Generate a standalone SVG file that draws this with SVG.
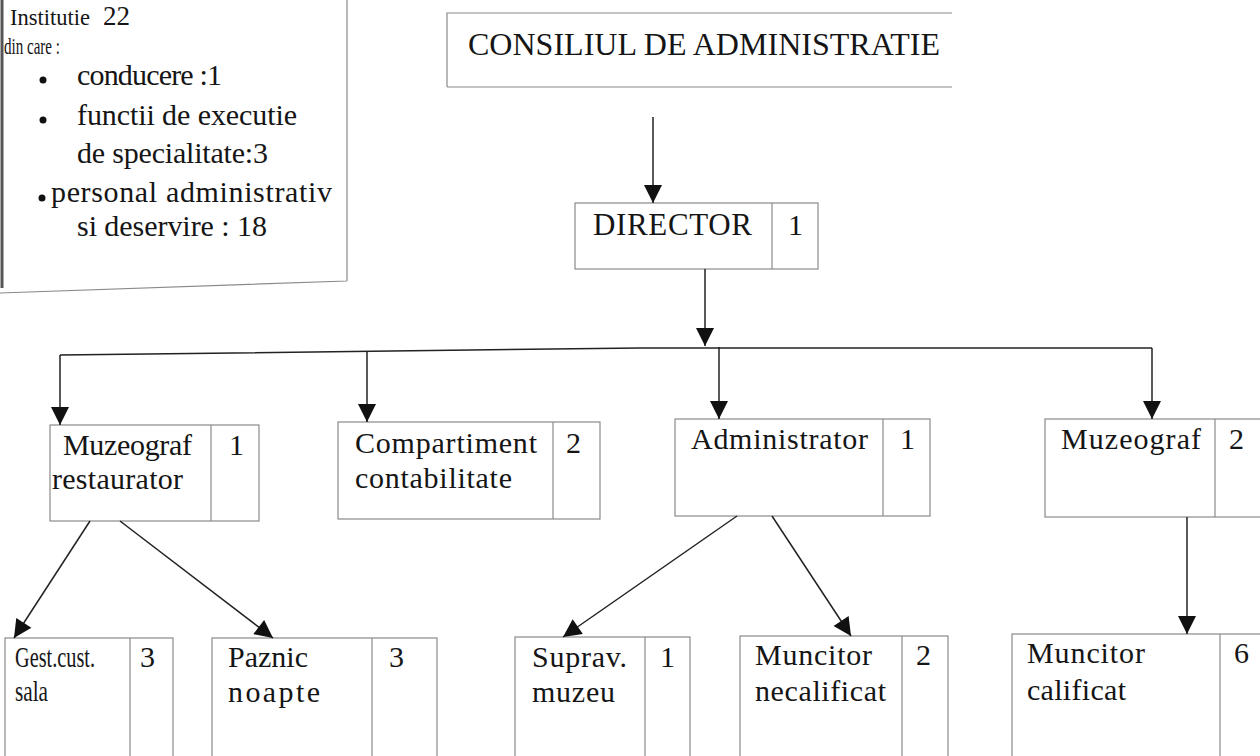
<svg xmlns="http://www.w3.org/2000/svg" width="1260" height="756" viewBox="0 0 1260 756">
<defs>
<marker id="ah" viewBox="0 0 10 10" refX="10" refY="5" markerWidth="22" markerHeight="18" markerUnits="userSpaceOnUse" orient="auto">
<path d="M0,0 L10,5 L0,10 Z" fill="#111"/>
</marker>
<style>
.box{fill:#fff;stroke:#8a8a8a;stroke-width:1.2}
.div{stroke:#8a8a8a;stroke-width:1.2}
.t{font-family:"Liberation Serif","Times New Roman",serif;font-size:30px;fill:#151515}
.c{stroke:#222;stroke-width:1.5;fill:none}
.ca{stroke:#222;stroke-width:1.5;fill:none;marker-end:url(#ah)}
</style>
</defs>
<rect width="1260" height="756" fill="#fff"/>
<g id="info">
<path d="M347,0 L347,281 M0,293 L347,281" stroke="#8a8a8a" stroke-width="1.2" fill="none"/>
<line x1="2" y1="0" x2="2" y2="288" stroke="#555" stroke-width="3"/>
<text x="10" y="25" class="t" style="font-size:23px" textLength="80" lengthAdjust="spacingAndGlyphs">Institutie</text>
<text x="103" y="25" class="t" style="font-size:27px">22</text>
<text x="4" y="54" class="t" style="font-size:24px" textLength="56" lengthAdjust="spacingAndGlyphs">din care :</text>
<circle cx="43" cy="80" r="3.5" fill="#111"/>
<text x="77" y="85" class="t" textLength="145" lengthAdjust="spacing">conducere :1</text>
<circle cx="43" cy="120" r="3.5" fill="#111"/>
<text x="77" y="125" class="t" textLength="220" lengthAdjust="spacing">functii de executie</text>
<text x="77" y="163" class="t" textLength="191" lengthAdjust="spacing">de specialitate:3</text>
<circle cx="42" cy="198" r="3.5" fill="#111"/>
<text x="51" y="202" class="t" textLength="281" lengthAdjust="spacing">personal administrativ</text>
<text x="77" y="236" class="t" textLength="190" lengthAdjust="spacing">si deservire : 18</text>
</g>
<g id="consiliu">
<path d="M447,87 L447,13 L952,13 M447,87 L952,87" stroke="#8a8a8a" stroke-width="1.2" fill="none"/>
<text x="468" y="55" class="t" style="font-size:32px" textLength="472" lengthAdjust="spacing">CONSILIUL DE ADMINISTRATIE</text>
</g>
<g id="director">
<rect x="575" y="203" width="243" height="66" class="box"/>
<line x1="772" y1="203" x2="772" y2="269" class="div"/>
<text x="593" y="235" class="t" style="font-size:31px" textLength="159" lengthAdjust="spacing">DIRECTOR</text>
<text x="788" y="235" class="t">1</text>
</g>
<g id="muzeograf-restaurator">
<rect x="50" y="425" width="209" height="96" class="box"/>
<line x1="211" y1="425" x2="211" y2="521" class="div"/>
<text x="63" y="455" class="t" textLength="129" lengthAdjust="spacing">Muzeograf</text>
<text x="52" y="489" class="t" textLength="131" lengthAdjust="spacing">restaurator</text>
<text x="229" y="455" class="t">1</text>
</g>
<g id="compartiment">
<rect x="338" y="422" width="262" height="97" class="box"/>
<line x1="553" y1="422" x2="553" y2="519" class="div"/>
<text x="355" y="453" class="t" textLength="182" lengthAdjust="spacing">Compartiment</text>
<text x="355" y="488" class="t" textLength="157" lengthAdjust="spacing">contabilitate</text>
<text x="566" y="453" class="t">2</text>
</g>
<g id="administrator">
<rect x="675" y="419" width="255" height="97" class="box"/>
<line x1="883" y1="419" x2="883" y2="516" class="div"/>
<text x="691" y="449" class="t" textLength="177" lengthAdjust="spacing">Administrator</text>
<text x="900" y="449" class="t">1</text>
</g>
<g id="muzeograf">
<rect x="1045" y="419" width="230" height="98" class="box"/>
<line x1="1215" y1="419" x2="1215" y2="517" class="div"/>
<text x="1061" y="449" class="t" textLength="140" lengthAdjust="spacing">Muzeograf</text>
<text x="1229" y="449" class="t">2</text>
</g>
<g id="gest">
<rect x="5" y="638" width="168" height="130" class="box"/>
<line x1="130" y1="638" x2="130" y2="756" class="div"/>
<text x="15" y="667" class="t" textLength="80" lengthAdjust="spacingAndGlyphs">Gest.cust.</text>
<text x="15" y="701" class="t" textLength="33" lengthAdjust="spacingAndGlyphs">sala</text>
<text x="140" y="667" class="t">3</text>
</g>
<g id="paznic">
<rect x="212" y="638" width="225" height="130" class="box"/>
<line x1="372" y1="638" x2="372" y2="756" class="div"/>
<text x="228" y="667" class="t" textLength="80" lengthAdjust="spacing">Paznic</text>
<text x="228" y="702" class="t" textLength="92" lengthAdjust="spacing">noapte</text>
<text x="389" y="667" class="t">3</text>
</g>
<g id="suprav">
<rect x="515" y="637" width="175" height="130" class="box"/>
<line x1="645" y1="637" x2="645" y2="756" class="div"/>
<text x="532" y="667" class="t" textLength="95" lengthAdjust="spacing">Suprav.</text>
<text x="532" y="702" class="t" textLength="83" lengthAdjust="spacing">muzeu</text>
<text x="660" y="667" class="t">1</text>
</g>
<g id="muncitor-necalificat">
<rect x="740" y="636" width="208" height="130" class="box"/>
<line x1="902" y1="636" x2="902" y2="756" class="div"/>
<text x="755" y="665" class="t" textLength="117" lengthAdjust="spacing">Muncitor</text>
<text x="755" y="701" class="t" textLength="131" lengthAdjust="spacing">necalificat</text>
<text x="916" y="665" class="t">2</text>
</g>
<g id="muncitor-calificat">
<rect x="1012" y="634" width="260" height="130" class="box"/>
<line x1="1220" y1="634" x2="1220" y2="756" class="div"/>
<text x="1027" y="663" class="t" textLength="118" lengthAdjust="spacing">Muncitor</text>
<text x="1027" y="700" class="t" textLength="99" lengthAdjust="spacing">calificat</text>
<text x="1234" y="663" class="t">6</text>
</g>
<g id="connectors">
<line x1="653" y1="117" x2="653" y2="203" class="ca"/>
<line x1="705" y1="269" x2="705" y2="346" class="ca"/>
<path d="M60,355 L640,348 L1152,348" class="c"/>
<line x1="60" y1="355" x2="60" y2="425" class="ca"/>
<line x1="367" y1="351" x2="367" y2="422" class="ca"/>
<line x1="719" y1="347" x2="719" y2="419" class="ca"/>
<line x1="1152" y1="348" x2="1152" y2="419" class="ca"/>
<line x1="90" y1="521" x2="14" y2="638" class="ca"/>
<line x1="120" y1="521" x2="273" y2="638" class="ca"/>
<line x1="737" y1="516" x2="563" y2="637" class="ca"/>
<line x1="772" y1="516" x2="851" y2="636" class="ca"/>
<line x1="1187" y1="517" x2="1187" y2="634" class="ca"/>
</g>
</svg>
